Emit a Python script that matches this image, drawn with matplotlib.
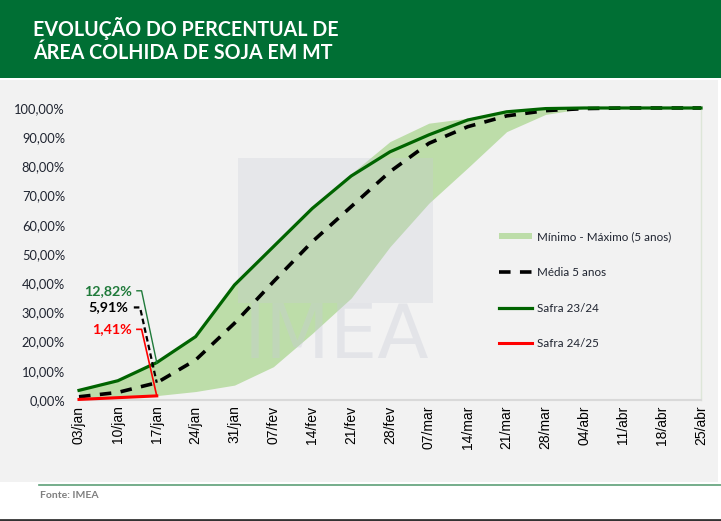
import matplotlib
matplotlib.use("Agg")
import matplotlib.pyplot as plt
from matplotlib.patches import Rectangle, Patch
from matplotlib.lines import Line2D
from matplotlib.ticker import FuncFormatter

# ---- data ----
dates = ["03/jan", "10/jan", "17/jan", "24/jan", "31/jan", "07/fev", "14/fev", "21/fev",
         "28/fev", "07/mar", "14/mar", "21/mar", "28/mar", "04/abr", "11/abr", "18/abr", "25/abr"]
minimo = [0.2, 0.5, 1.5, 2.9, 5.1, 11.4, 22.8, 34.9, 52.5, 67.4, 79.5, 91.9, 97.8, 99.9, 100, 100, 100]
maximo = [3.4, 6.6, 12.82, 21.7, 39.4, 52.5, 65.6, 77.5, 88.5, 94.8, 96.5, 99.1, 99.9, 100, 100, 100, 100]
media5 = [1.1, 2.6, 5.91, 13.7, 26.3, 40.5, 54.2, 66.2, 78.2, 87.9, 93.6, 97.3, 99.1, 99.8, 100, 100, 100]
safra2324 = [3.3, 6.6, 12.82, 21.7, 39.4, 52.5, 65.6, 76.7, 85.0, 90.8, 95.9, 98.7, 99.8, 100, 100, 100, 100]
safra2425 = [0.2, 0.8, 1.41]
yticks = [0, 10, 20, 30, 40, 50, 60, 70, 80, 90, 100]

W, H = 721, 521
fig = plt.figure(figsize=(W / 100, H / 100), dpi=100)
fig.patch.set_facecolor("white")

def fx(px):
    return px / W

def fy(py):
    return 1 - py / H

# header band
fig.add_artist(Rectangle((0, fy(78)), 1, 78 / H, transform=fig.transFigure,
                         facecolor="#006F34", edgecolor="none", zorder=0))
# gray panel
fig.add_artist(Rectangle((0, fy(482)), fx(718), (482 - 80) / H, transform=fig.transFigure,
                         facecolor="#F2F2F2", edgecolor="none", zorder=0))
# footer line
fig.add_artist(Line2D([fx(39), 1], [fy(485), fy(485)], transform=fig.transFigure,
                      color="#5E9F78", lw=1.2))
fig.add_artist(Line2D([0, 1], [fy(519.5), fy(519.5)], transform=fig.transFigure,
                      color="#333333", lw=2))

fig.text(fx(33), fy(29), "EVOLUÇÃO DO PERCENTUAL DE", color="white", fontsize=14.1,
         fontweight="bold", family="Lato", va="center", ha="left")
fig.text(fx(33), fy(53), "ÁREA COLHIDA DE SOJA EM MT", color="white", fontsize=14.1,
         fontweight="bold", family="Lato", va="center", ha="left")
fig.text(fx(40), fy(496), "Fonte: IMEA", color="#7F7F7F", fontsize=7.5,
         fontweight="bold", family="Lato", va="center", ha="left")

left, right, top, bottom = 79, 701, 108, 400
ax = fig.add_axes([fx(left), fy(bottom), (right - left) / W, (bottom - top) / H])
ax.set_facecolor("none")
x = list(range(len(dates)))
ax.set_xlim(0, len(dates) - 1)
ax.set_ylim(0, 100)

# watermark
ax.add_artist(Rectangle((fx(238), fy(303)), (433 - 238) / W, (303 - 158) / H,
                        transform=fig.transFigure, facecolor="#C8CBD8", alpha=0.28,
                        edgecolor="none", zorder=1.5))
fig.text(fx(336), fy(338), "IMEA", color="#C8CBD8", alpha=0.35, fontsize=54,
         family="DejaVu Sans", fontweight="normal", ha="center", va="center", zorder=1.5)

ax.fill_between(x, minimo, maximo, color="#BDDDA9", linewidth=0, zorder=1)
ax.plot(x, media5, color="black", lw=2.6, dashes=(3.2, 2.6), zorder=3, clip_on=False)
ax.plot(x, safra2324, color="#006400", lw=2.3, zorder=4, clip_on=False)
ax.plot(x[:len(safra2425)], safra2425, color="#FF0000", lw=2.2, zorder=5, clip_on=False)

# annotations with leader lines
ax.plot([1.49, 1.61, 2.0], [37.4, 37.4, 12.82], color="#1F7A3A", lw=1.0, zorder=6, clip_on=False)
ax.plot([1.41, 1.57, 2.0], [31.7, 31.7, 5.91], color="black", lw=1.6, dashes=(2.5, 1.5),
        zorder=6, clip_on=False)
ax.plot([1.49, 1.61, 2.0], [24.2, 24.2, 1.41], color="#FF0000", lw=1.2, zorder=6, clip_on=False)
ax.text(1.36, 37.4, "12,82%", color="#1F7A3A", fontsize=10.3, fontweight="bold",
        family="Lato", ha="right", va="center")
ax.text(1.26, 31.7, "5,91%", color="black", fontsize=10.3, fontweight="bold",
        family="Lato", ha="right", va="center")
ax.text(1.36, 24.2, "1,41%", color="#FF0000", fontsize=10.3, fontweight="bold",
        family="Lato", ha="right", va="center")

# axes styling
for s in ["top", "left"]:
    ax.spines[s].set_visible(False)
ax.spines["bottom"].set_color("#D9D9D9")
ax.spines["bottom"].set_linewidth(1.5)
ax.spines["right"].set_color("#DDE6D8")
ax.spines["right"].set_linewidth(1.0)

ax.set_yticks(yticks)
ax.yaxis.set_major_formatter(FuncFormatter(lambda v, p: f"{v:.2f}%".replace(".", ",")))
ax.set_xticks(x)
ax.set_xticklabels(dates, rotation=90, family="Liberation Sans", fontsize=10, color="black")
ax.tick_params(axis="x", length=0, pad=4)
ax.tick_params(axis="y", length=0, pad=10, labelsize=9.3, labelcolor="#1F2430")
for lbl in ax.get_yticklabels():
    lbl.set_family("Lato")

handles = [
    Patch(facecolor="#BDDDA9", edgecolor="none"),
    Line2D([], [], color="black", lw=2.6, dashes=(3.2, 2.6)),
    Line2D([], [], color="#006400", lw=2.3),
    Line2D([], [], color="#FF0000", lw=2.2),
]
labels = ["Mínimo - Máximo (5 anos)", "Média 5 anos", "Safra 23/24", "Safra 24/25"]
leg = ax.legend(handles, labels, loc="upper left", bbox_to_anchor=(fx(488), fy(221)),
                bbox_transform=fig.transFigure, frameon=False, handlelength=2.9,
                handleheight=0.45, handletextpad=0.4, labelspacing=2.1,
                prop={"family": "Lato", "size": 8.4})
for t in leg.get_texts():
    t.set_color("#1F2430")

fig.savefig("out.png", dpi=100, facecolor="white")
